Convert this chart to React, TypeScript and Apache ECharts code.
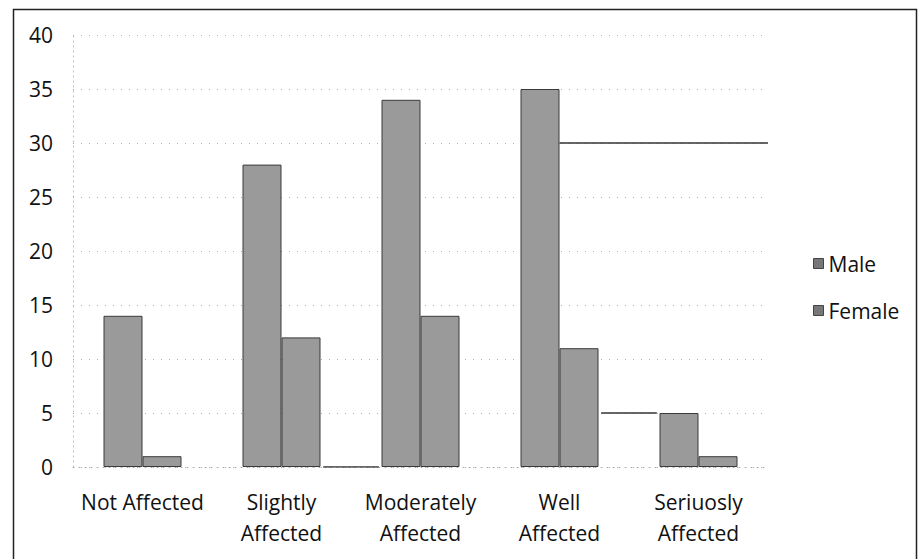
import React, { useEffect, useRef } from "react";
import * as echarts from "echarts";

const categories = ["Not Affected", "Slightly\nAffected", "Moderately\nAffected", "Well\nAffected", "Seriuosly\nAffected"];
const maleValues = [14, 28, 34, 35, 5];
const femaleValues = [1, 12, 14, 11, 1];
const yTicks = [0, 5, 10, 15, 20, 25, 30, 35, 40];
// stray rule segments visible in the scanned figure: [xStartIndex, xEndIndex, value]
const straySegments = [
  [3.0, 4.5, 30],
  [3.3, 3.7, 5],
  [1.3, 1.7, 0],
];

const FONT = "'Open Sans', 'Noto Sans', sans-serif";

export default function App() {
  const ref = useRef<HTMLDivElement>(null);
  useEffect(() => {
    if (!ref.current) return;
    const chart = echarts.init(ref.current, undefined, { renderer: "svg" });
    const barStyle = {
      color: "#9a9a9a",
      borderColor: "#3a3a3a",
      borderWidth: 1,
    };
    const strayLines = straySegments.map((s, i) => ({
      type: "line",
      name: "stray" + i,
      xAxisIndex: 1,
      data: [
        [s[0], s[2]],
        [s[1], s[2]],
      ],
      symbol: "none",
      lineStyle: { color: "#333", width: 1.5 },
      silent: true,
      z: 5,
    }));
    chart.setOption({
      animation: false,
      backgroundColor: "#fff",
      grid: { left: 73, right: 151, top: 35, bottom: 92 },
      legend: {
        data: ["Male", "Female"],
        orient: "vertical",
        left: 808,
        top: 248,
        itemWidth: 10,
        itemHeight: 10,
        itemGap: 26,
        icon: "rect",
        itemStyle: { color: "#777", borderColor: "#444", borderWidth: 1 },
        textStyle: { fontFamily: FONT, fontSize: 21, color: "#111" },
      },
      xAxis: [
        {
          type: "category",
          data: categories,
          axisLine: { show: true, lineStyle: { color: "#aaa", type: [1, 5], width: 1 } },
          axisTick: { show: false },
          axisLabel: {
            fontFamily: FONT,
            fontSize: 21,
            color: "#111",
            lineHeight: 31,
            margin: 19,
            interval: 0,
          },
        },
        {
          type: "value",
          min: -0.5,
          max: 4.5,
          show: false,
        },
      ],
      yAxis: {
        type: "value",
        min: 0,
        max: 40,
        interval: 5,
        axisLine: { show: true, onZero: false, lineStyle: { color: "#bbb", type: [1, 4], width: 1 } },
        axisTick: { show: false },
        axisLabel: {
          fontFamily: FONT,
          fontSize: 21,
          color: "#111",
          margin: 20,
          formatter: (v: number) => (yTicks.includes(v) ? String(v) : ""),
        },
        splitLine: { show: true, lineStyle: { color: "#aaa", type: [1, 7], width: 1 } },
      },
      series: [
        {
          name: "Male",
          type: "bar",
          data: maleValues,
          barWidth: 39,
          barGap: "0%",
          itemStyle: barStyle,
        },
        {
          name: "Female",
          type: "bar",
          data: femaleValues,
          barWidth: 39,
          barGap: "0%",
          itemStyle: barStyle,
        },
        ...strayLines,
      ],
      graphic: [
        {
          type: "rect",
          left: 11,
          top: 7,
          shape: { width: 903, height: 560 },
          style: { fill: "none", stroke: "#222", lineWidth: 1.5 },
          silent: true,
        },
      ],
    });
    return () => chart.dispose();
  }, []);
  return (
    <div
      ref={ref}
      style={{ position: "absolute", left: 0, top: 0, width: 919, height: 559 }}
    />
  );
}
